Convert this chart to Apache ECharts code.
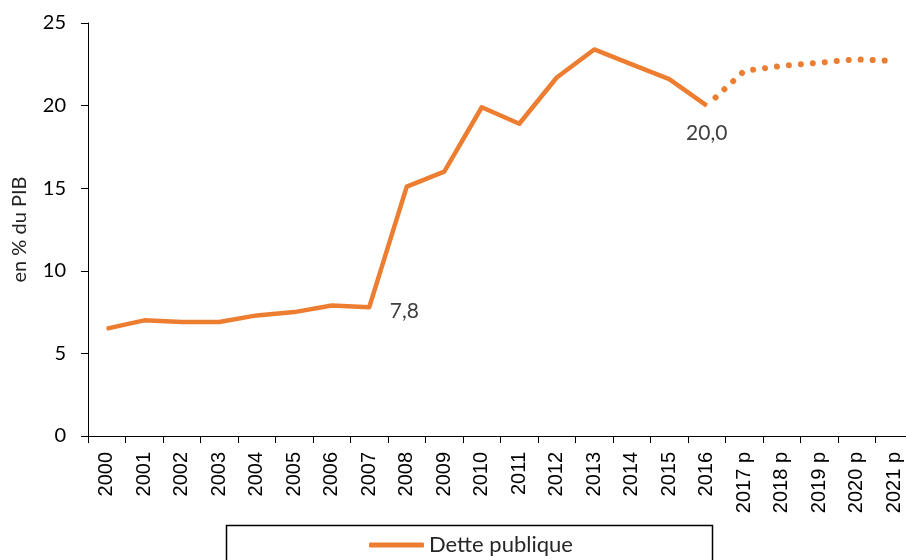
<!DOCTYPE html>
<html>
<head>
    <meta charset="utf-8">
    <title>Dette publique</title>
    <script src="https://cdn.jsdelivr.net/npm/echarts@6/dist/echarts.min.js"></script>
    <style>
        html, body { margin: 0; padding: 0; background: #fff; }
    </style>
</head>
<body>
    <div id="main" style="width: 906px;height:560px;"></div>

    <script type="text/javascript">
        // années (p = prévision)
        var years = ['2000', '2001', '2002', '2003', '2004', '2005', '2006', '2007', '2008', '2009',
            '2010', '2011', '2012', '2013', '2014', '2015', '2016',
            '2017 p', '2018 p', '2019 p', '2020 p', '2021 p'];

        // dette observée, en % du PIB
        var detteObs = [6.5, 7.0, 6.9, 6.9, 7.3, 7.5, 7.9, 7.8, 15.1, 16.0,
            19.9, 18.9, 21.7, 23.4, 22.5, 21.6, 20.0,
            null, null, null, null, null];

        // prévisions (partent du dernier point observé)
        var dettePrev = [null, null, null, null, null, null, null, null, null, null,
            null, null, null, null, null, null, 20.0,
            22.1, 22.4, 22.6, 22.8, 22.7];

        // points annotés : index -> position du libellé
        var annotations = { 7: 'right', 16: 'bottom' };

        var orange = '#ED7D31';
        var calibri = 'Lato, "Open Sans", sans-serif';

        var myChart = echarts.init(document.getElementById('main'));

        var obsData = detteObs.map(function (v, i) {
            if (annotations[i] === 'right') {
                return { value: v, label: { show: true, position: 'right', distance: 20, offset: [0, 4] } };
            }
            if (annotations[i] === 'bottom') {
                return { value: v, label: { show: true, position: 'bottom', distance: 17 } };
            }
            return v;
        });

        var option = {
            animation: false,
            grid: {
                left: 88,
                right: -7,
                top: 23,
                bottom: 124,
                outerBoundsMode: 'none'
            },
            graphic: [{
                type: 'rect',
                left: 224,
                top: 523,
                shape: { width: 486, height: 60 },
                style: { fill: 'none', stroke: '#000', lineWidth: 1.5 },
                silent: true
            }],
            legend: {
                data: ['Dette publique'],
                left: 369,
                top: 534,
                padding: 0,
                icon: 'roundRect',
                itemWidth: 55,
                itemHeight: 5,
                textStyle: { fontFamily: calibri, fontSize: 22, color: '#262626' }
            },
            xAxis: {
                type: 'category',
                data: years,
                boundaryGap: true,
                axisLine: { lineStyle: { color: '#000', width: 1 } },
                axisTick: { show: true, length: 7, lineStyle: { color: '#000' } },
                axisLabel: {
                    rotate: 90,
                    margin: 16,
                    interval: 0,
                    fontFamily: '"Liberation Sans", Arial, sans-serif',
                    fontSize: 20,
                    color: '#000'
                },
                splitLine: { show: false }
            },
            yAxis: {
                type: 'value',
                min: 0,
                max: 25,
                interval: 5,
                name: 'en % du PIB',
                nameLocation: 'middle',
                nameGap: 58,
                nameTextStyle: { fontFamily: calibri, fontSize: 20, color: '#222' },
                axisLine: { show: true, lineStyle: { color: '#000', width: 1 } },
                axisTick: { show: true, length: 7, lineStyle: { color: '#000' } },
                axisLabel: {
                    margin: 22,
                    fontFamily: calibri,
                    fontSize: 20,
                    color: '#000'
                },
                splitLine: { show: false }
            },
            series: [{
                name: 'Dette publique',
                type: 'line',
                data: obsData,
                symbol: 'circle',
                symbolSize: 1,
                showSymbol: true,
                connectNulls: false,
                itemStyle: { color: orange },
                lineStyle: { color: orange, width: 4.5, join: 'round' },
                label: {
                    show: false,
                    fontFamily: calibri,
                    fontSize: 21,
                    color: '#404040',
                    formatter: function (p) {
                        return p.value.toFixed(1).replace('.', ',');
                    }
                }
            }, {
                name: 'Prévision',
                type: 'line',
                data: dettePrev,
                showSymbol: false,
                itemStyle: { color: orange },
                lineStyle: {
                    color: orange,
                    width: 6,
                    type: [0.01, 12],
                    dashOffset: -12,
                    cap: 'round'
                }
            }]
        };

        myChart.setOption(option);
    </script>
</body>
</html>
